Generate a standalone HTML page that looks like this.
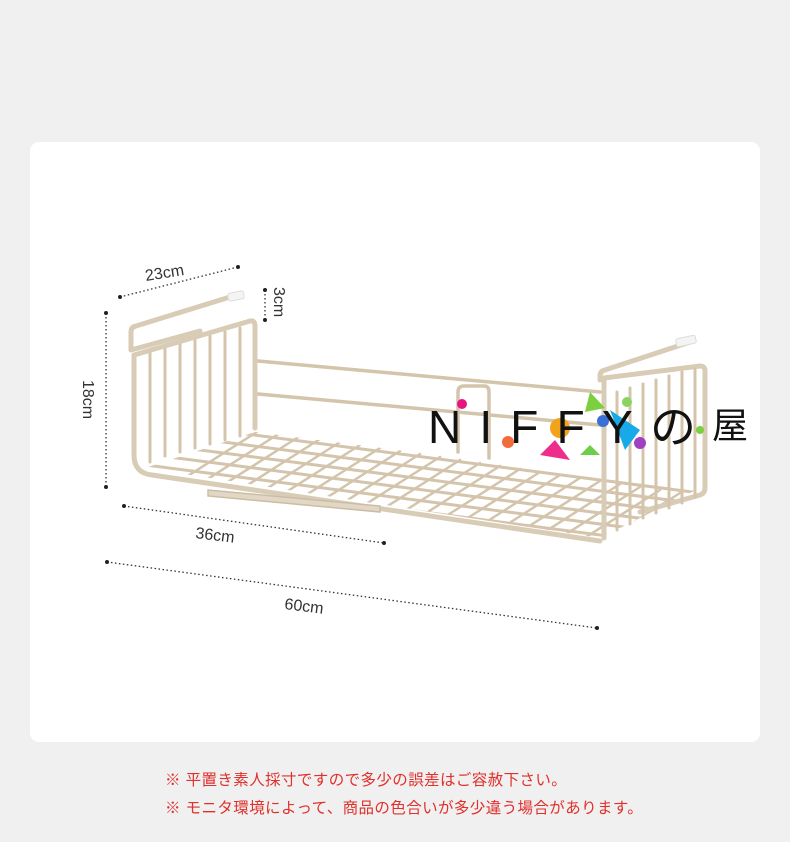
<!DOCTYPE html>
<html><head><meta charset="utf-8"><style>
html,body{margin:0;padding:0;width:790px;height:842px;background:#f0f0f0;overflow:hidden}
.card{position:absolute;left:30px;top:142px;width:730px;height:600px;background:#fff;border-radius:9px}
svg{position:absolute;left:0;top:0}
.note{position:absolute;left:165px;font:15.5px "Liberation Sans","Noto Sans CJK JP",sans-serif;color:#e0302c;letter-spacing:0.4px;white-space:nowrap}
</style></head><body>
<div class="card"></div>
<svg width="790" height="842" viewBox="0 0 790 842">
<defs>
<clipPath id="floor"><polygon points="145,468 255,432 700,488 600,538"/></clipPath>
</defs>
<g fill="none" stroke="#d3c4ab" stroke-linecap="round">
 <g clip-path="url(#floor)" stroke-width="3">
  <g>
   <line x1="100" y1="470" x2="700" y2="548"/><line x1="100" y1="459" x2="700" y2="537"/><line x1="100" y1="448" x2="700" y2="526"/><line x1="100" y1="437" x2="700" y2="515"/><line x1="100" y1="426" x2="700" y2="504"/><line x1="100" y1="415" x2="700" y2="493"/><line x1="100" y1="404" x2="700" y2="482"/>
  </g>
  <g stroke-width="2.5">
   <line x1="150" y1="500" x2="260" y2="430"/><line x1="170" y1="503" x2="280" y2="433"/><line x1="190" y1="506" x2="300" y2="436"/><line x1="210" y1="509" x2="320" y2="439"/><line x1="230" y1="512" x2="340" y2="442"/><line x1="250" y1="515" x2="360" y2="445"/><line x1="270" y1="518" x2="380" y2="448"/><line x1="290" y1="521" x2="400" y2="451"/><line x1="310" y1="524" x2="420" y2="454"/><line x1="330" y1="527" x2="440" y2="457"/><line x1="350" y1="530" x2="460" y2="460"/><line x1="370" y1="533" x2="480" y2="463"/><line x1="390" y1="536" x2="500" y2="466"/><line x1="410" y1="539" x2="520" y2="469"/><line x1="430" y1="542" x2="540" y2="472"/><line x1="450" y1="545" x2="560" y2="475"/><line x1="470" y1="548" x2="580" y2="478"/><line x1="490" y1="551" x2="600" y2="481"/><line x1="510" y1="554" x2="620" y2="484"/><line x1="530" y1="557" x2="640" y2="487"/><line x1="550" y1="560" x2="660" y2="490"/><line x1="570" y1="563" x2="680" y2="493"/><line x1="590" y1="566" x2="700" y2="496"/>
  </g>
 </g>
 <g stroke-width="3.5">
  <path d="M258 361 L600 392"/><path d="M258 394 L600 425"/>
  <path d="M458 452 V392 q0-6 6-6 H484 q5 0 5 6 V458"/>
 </g>
 <g stroke-width="3">
  <line x1="150" y1="352" x2="150" y2="462"/><line x1="165" y1="348" x2="165" y2="456"/><line x1="180" y1="344" x2="180" y2="452"/><line x1="195" y1="340" x2="195" y2="448"/><line x1="210" y1="336" x2="210" y2="444"/><line x1="225" y1="332" x2="225" y2="440"/><line x1="240" y1="328" x2="240" y2="436"/>
 </g>
 <g stroke-width="5" stroke="#d9ccb6">
  <path d="M134 355 V455 q0 18 18 20 L600 541"/>
  <path d="M134 355 L250 321 q5 -1 5 5 V428"/>
  <path d="M131 350 V332 q0 -5 5 -6 L230 297"/>
  <path d="M131 350 L200 331"/>
  <path d="M604 538 V378 L700 366 q5 0 5 5 V488 q0 5 -5 7 L640 512"/>
  <path d="M600 380 V376 q0 -5 5 -6 L690 342"/>
 </g>
 <g stroke-width="3">
  <line x1="617" y1="392" x2="617" y2="530"/><line x1="630" y1="388" x2="630" y2="524"/><line x1="643" y1="384" x2="643" y2="518"/><line x1="656" y1="380" x2="656" y2="513"/><line x1="669" y1="376" x2="669" y2="508"/><line x1="682" y1="372" x2="682" y2="503"/><line x1="695" y1="369" x2="695" y2="497"/>
 </g>
 <path d="M208 490 L380 506 V512 L208 496 Z" fill="#e2d7c4" stroke="#cbbda5" stroke-width="1.5"/>
</g>
<rect x="228" y="292" width="16" height="8" rx="2" fill="#f4f4f2" stroke="#ddd" transform="rotate(-12 236 296)"/>
<rect x="676" y="337" width="20" height="8" rx="2" fill="#f4f4f2" stroke="#ddd" transform="rotate(-12 686 341)"/>
<g stroke="#333" stroke-width="1.3" stroke-dasharray="1.5 2.5" fill="none">
 <line x1="120" y1="297" x2="238" y2="267"/>
 <line x1="265" y1="290" x2="265" y2="320"/>
 <line x1="106" y1="313" x2="106" y2="487"/>
 <line x1="124" y1="506" x2="384" y2="543"/>
 <line x1="107" y1="562" x2="597" y2="628"/>
</g>
<g fill="#222"><circle cx="120" cy="297" r="2"/><circle cx="238" cy="267" r="2"/><circle cx="265" cy="290" r="2"/><circle cx="265" cy="320" r="2"/><circle cx="106" cy="313" r="2"/><circle cx="106" cy="487" r="2"/><circle cx="124" cy="506" r="2"/><circle cx="384" cy="543" r="2"/><circle cx="107" cy="562" r="2"/><circle cx="597" cy="628" r="2"/></g>
<g font-family="Liberation Sans, sans-serif" font-size="16" fill="#333">
 <text x="146" y="281" transform="rotate(-9 146 281)">23cm</text>
 <text x="274" y="287" transform="rotate(90 274 287)">3cm</text>
 <text x="83" y="380" transform="rotate(90 83 380)">18cm</text>
 <text x="195" y="538" transform="rotate(7 195 538)">36cm</text>
 <text x="284" y="609" transform="rotate(7 284 609)">60cm</text>
</g>
<g>
 <polygon points="590,392 605,408 585,412" fill="#7ccf3e"/>
 <polygon points="555,440 570,460 540,455" fill="#ef2e8c"/>
 <circle cx="560" cy="428" r="10" fill="#f2a31c"/>
 <circle cx="508" cy="442" r="6" fill="#f26b3a"/>
 <circle cx="462" cy="404" r="5" fill="#e6157f"/>
 <polygon points="610,410 640,430 625,450" fill="#17a9e8"/>
 <circle cx="603" cy="421" r="6" fill="#3c6fd6"/>
 <polygon points="590,445 600,455 580,455" fill="#6dcf49"/>
 <circle cx="640" cy="443" r="6" fill="#a040c0"/>
 <circle cx="700" cy="430" r="4" fill="#7ccf3e"/>
 <circle cx="627" cy="402" r="5" fill="#8bd35f"/>
</g>
<g font-family="Liberation Sans, 'Noto Sans CJK JP', sans-serif" fill="#111">
 <text x="428" y="443" font-size="46" letter-spacing="2" textLength="270">N I F F Y の</text>
 <text x="712" y="438" font-size="36">屋</text>
</g>
</svg>
<div class="note" style="top:768px">※ 平置き素人採寸ですので多少の誤差はご容赦下さい。</div>
<div class="note" style="top:796px">※ モニタ環境によって、商品の色合いが多少違う場合があります。</div>
</body></html>
